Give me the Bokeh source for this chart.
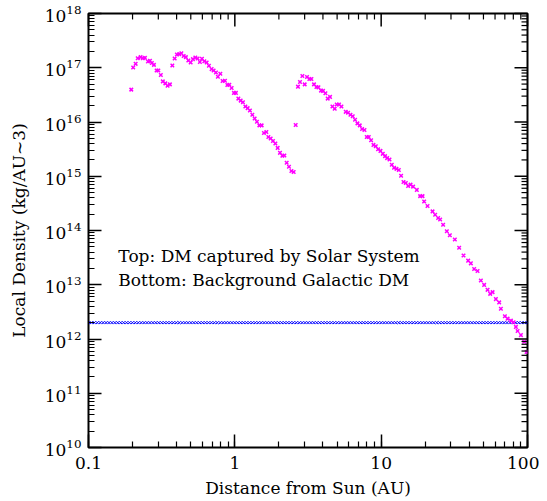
import numpy as np
from bokeh.plotting import figure
from bokeh.models import LogTicker, Label, CustomJSTickFormatter
from bokeh.embed import file_html
from bokeh.resources import INLINE

# Dark matter captured by the Solar System (magenta crosses)
captured_r = [
    0.196, 0.202, 0.210, 0.217, 0.227, 0.235, 0.243, 0.255, 0.263, 0.271,
    0.280, 0.292, 0.300, 0.312, 0.322, 0.335, 0.347, 0.360,
    0.374, 0.388, 0.402, 0.417, 0.431, 0.447, 0.463, 0.481, 0.499, 0.517,
    0.537, 0.557, 0.577, 0.596, 0.619, 0.642, 0.665, 0.694, 0.716, 0.743,
    0.766, 0.796, 0.825, 0.856, 0.889, 0.917, 0.951, 0.986, 1.017, 1.057,
    1.096, 1.136, 1.180, 1.223, 1.268, 1.317, 1.366, 1.416, 1.471, 1.525,
    1.581, 1.642, 1.695, 1.757, 1.822, 1.892, 1.962, 2.035, 2.113, 2.180,
    2.261, 2.344, 2.435, 2.524,
    2.605, 2.701, 2.788, 2.895, 3.002, 3.113, 3.232, 3.336, 3.475, 3.610,
    3.725, 3.881, 4.005, 4.159, 4.312, 4.472, 4.644, 4.815, 4.969, 5.152,
    5.351, 5.728, 5.939, 6.166, 6.394, 6.630, 6.885, 7.139, 7.403, 7.688,
    7.972, 8.228, 8.531, 8.859, 9.188, 9.526, 9.890, 10.26, 10.63, 10.98,
    11.40, 11.82, 12.25, 12.72, 13.20, 13.68, 14.21, 14.74, 15.28, 15.87,
    16.53, 17.52, 18.46, 19.17, 19.66, 20.74, 22.44, 23.38, 24.50, 25.29,
    26.51, 28.10, 29.46, 31.87, 34.11, 36.54, 39.30, 41.01, 43.19, 45.57,
    48.00, 50.56, 53.35, 55.58, 57.72, 60.80, 64.04, 65.79, 70.04, 73.09,
    77.01, 80.35, 83.32, 85.58, 90.15, 94.93, 98.58,
]
captured_rho = [
    3.95e16, 1.01e17, 1.18e17, 1.50e17, 1.57e17, 1.50e17, 1.52e17, 1.30e17, 1.34e17, 1.22e17,
    1.13e17, 8.90e16, 8.90e16, 7.34e16, 5.60e16, 5.15e16, 4.67e16, 4.94e16,
    1.10e17, 1.48e17, 1.75e17, 1.78e17, 1.85e17, 1.65e17, 1.57e17, 1.36e17, 1.25e17, 1.44e17,
    1.54e17, 1.48e17, 1.28e17, 1.46e17, 1.32e17, 1.25e17, 1.09e17, 9.45e16, 8.91e16, 8.19e16,
    6.83e16, 7.75e16, 5.70e16, 5.77e16, 4.81e16, 4.87e16, 4.24e16, 3.44e16, 3.44e16, 2.70e16,
    2.48e16, 2.31e16, 1.93e16, 1.80e16, 1.63e16, 1.36e16, 1.16e16, 1.01e16, 8.67e15, 8.67e15,
    6.27e15, 6.54e15, 5.29e15, 4.95e15, 4.47e15, 4.01e15, 3.33e15, 2.70e15, 2.38e15, 2.42e15,
    1.77e15, 1.50e15, 1.25e15, 1.20e15,
    8.78e15, 4.48e16, 5.46e16, 7.04e16, 4.94e16, 6.74e16, 6.20e16, 6.20e16, 4.94e16, 4.43e16,
    4.35e16, 3.79e16, 3.74e16, 3.38e16, 2.70e16, 2.90e16, 1.93e16, 1.75e16, 2.10e16, 2.10e16,
    1.93e16, 1.54e16, 1.48e16, 1.36e16, 1.28e16, 1.10e16, 9.43e15, 8.67e15, 7.42e15, 7.11e15,
    5.29e15, 5.29e15, 4.61e15, 3.78e15, 3.58e15, 3.15e15, 2.93e15, 2.59e15, 2.35e15, 2.16e15,
    2.04e15, 1.63e15, 1.43e15, 1.37e15, 1.30e15, 1.02e15, 7.85e14, 7.52e14, 6.63e14, 7.00e14,
    6.44e14, 5.60e14, 4.30e14, 4.30e14, 3.42e14, 2.82e14, 2.25e14, 1.95e14, 1.70e14, 1.60e14,
    1.28e14, 9.67e13, 8.17e13, 6.82e13, 4.81e13, 3.47e13, 2.78e13, 2.48e13, 1.95e13, 1.79e13,
    1.20e13, 9.94e12, 8.05e12, 6.80e12, 7.31e12, 5.44e12, 4.73e12, 3.62e12, 2.62e12, 2.37e12,
    2.18e12, 2.04e12, 1.67e12, 1.40e12, 1.18e12, 8.89e11, 5.76e11,
]

# Background galactic dark matter (blue crosses): constant density on the sampling grid
background_rho_value = 2.0e12
grid_r = np.geomspace(0.1, 100.0, 151)
background_rho = [background_rho_value] * len(grid_r)

x_ticks = [0.1, 1.0, 10.0, 100.0]
y_ticks = [1e10, 1e11, 1e12, 1e13, 1e14, 1e15, 1e16, 1e17, 1e18]
x_minor = [m * d for d in (0.1, 1.0, 10.0) for m in range(2, 10)]
y_minor = [m * 10.0 ** e for e in range(10, 18) for m in range(2, 10)]

X_MIN, X_MAX = 0.1, 100.0
Y_MIN, Y_MAX = 1e10, 1e18

WIDTH, HEIGHT = 539, 500
B_LEFT, B_RIGHT, B_TOP, B_BOTTOM = 88, 12, 13, 50
FRAME_W = WIDTH - B_LEFT - B_RIGHT
FRAME_H = HEIGHT - B_TOP - B_BOTTOM
MAJOR_LEN, MINOR_LEN = 13, 6

FONT = "DejaVu Serif"

p = figure(width=WIDTH, height=HEIGHT, x_axis_type="log", y_axis_type="log",
           x_range=(X_MIN, X_MAX), y_range=(Y_MIN, Y_MAX),
           output_backend="svg", toolbar_location=None,
           min_border_left=B_LEFT, min_border_right=B_RIGHT,
           min_border_top=B_TOP, min_border_bottom=B_BOTTOM)

p.grid.visible = False
p.outline_line_color = "black"
p.outline_line_width = 2

for ax in (p.xaxis[0], p.yaxis[0]):
    ax.axis_line_color = "black"
    ax.major_tick_in = MAJOR_LEN
    ax.major_tick_out = 0
    ax.minor_tick_in = MINOR_LEN
    ax.minor_tick_out = 0
    ax.major_tick_line_color = "black"
    ax.minor_tick_line_color = "black"
    ax.major_tick_line_width = 1.5
    ax.minor_tick_line_width = 1.2
    ax.major_label_text_font = FONT
    ax.major_label_text_color = "black"
    ax.major_label_text_font_size = "17px"
    ax.axis_label_text_font = FONT
    ax.axis_label_text_font_style = "normal"
    ax.axis_label_text_color = "black"
    ax.axis_label_text_font_size = "17px"

xa = p.xaxis[0]
xa.ticker = LogTicker(desired_num_ticks=6, num_minor_ticks=10)
xa.formatter = CustomJSTickFormatter(code="return String(Number(tick.toPrecision(6)));")
xa.major_label_standoff = 9
xa.axis_label = "Distance from Sun (AU)"
xa.axis_label_standoff = 6

ya = p.yaxis[0]
ya.ticker = LogTicker(desired_num_ticks=10, num_minor_ticks=10)
ya.major_label_standoff = 7
ya.axis_label = "Local Density (kg/AU~3)"
ya.axis_label_standoff = 13

# inward tick marks on the top and right edges (short segments from the frame edges)
x_dec_px = FRAME_W / np.log10(X_MAX / X_MIN)
y_dec_px = FRAME_H / np.log10(Y_MAX / Y_MIN)
for ticks, length, lw in ((x_ticks, MAJOR_LEN, 1.5), (x_minor, MINOR_LEN, 1.2)):
    f = float(10 ** (length / y_dec_px))
    n = len(ticks)
    p.segment(x0=list(ticks), y0=[Y_MAX] * n, x1=list(ticks), y1=[Y_MAX / f] * n,
              line_color="black", line_width=lw, level="overlay")
for ticks, length, lw in ((y_ticks, MAJOR_LEN, 1.5), (y_minor, MINOR_LEN, 1.2)):
    f = float(10 ** (length / x_dec_px))
    n = len(ticks)
    p.segment(x0=[X_MAX] * n, y0=list(ticks), x1=[X_MAX / f] * n, y1=list(ticks),
              line_color="black", line_width=lw, level="overlay")

p.scatter(grid_r, background_rho, marker="x", size=4, line_color="#0000ff", line_width=1.0)
p.scatter(captured_r, captured_rho, marker="x", size=5, line_color="#ff00ff", line_width=1.5)

for txt, yy in (("Top: DM captured by Solar System", 3.33e13),
                ("Bottom: Background Galactic DM", 1.21e13)):
    p.add_layout(Label(x=0.16, y=yy, text=txt, text_font=FONT, text_font_size="17px",
                       text_baseline="middle", text_align="left", text_color="black"))

open("out.html", "w").write(file_html(p, INLINE))
